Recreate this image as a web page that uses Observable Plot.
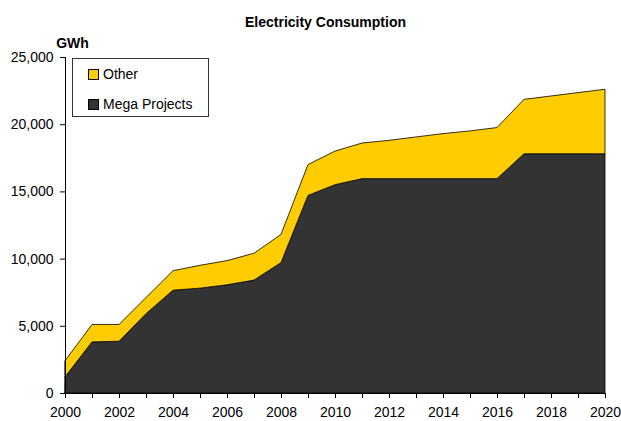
<!DOCTYPE html>
<html><head><meta charset="utf-8">
<script src="https://cdn.jsdelivr.net/npm/d3@7"></script>
<script src="https://cdn.jsdelivr.net/npm/@observablehq/plot@0.6"></script>
<style>
body{margin:0;background:#fff;font-family:"Liberation Sans",Arial,sans-serif;}
#wrap{position:relative;width:621px;height:421px;}
#legend{position:absolute;left:72px;top:58px;width:137px;height:59px;border:1px solid #333;background:#fff;font-size:14px;color:#000;box-sizing:border-box;}
.item{position:absolute;left:15px;display:flex;align-items:center;white-space:nowrap;}
.sw{width:9px;height:9px;border:1px solid #000;margin-right:4px;}
</style></head>
<body><div id="wrap"></div>
<script>
const title = "Electricity Consumption";
const unitLabel = "GWh";
const years = [2000,2001,2002,2003,2004,2005,2006,2007,2008,2009,2010,2011,2012,2013,2014,2015,2016,2017,2018,2019,2020];
const megaProjects = [1200,3800,3850,5900,7650,7800,8050,8400,9700,14700,15500,15950,15950,15950,15950,15950,15950,17800,17800,17800,17800];
const other = [1200,1300,1250,1200,1450,1700,1800,2000,2100,2300,2500,2650,2850,3100,3350,3550,3800,4050,4300,4550,4800];
const seriesNames = ["Mega Projects","Other"];
const seriesColors = ["#333333","#FFCC00"];
const yTicks = [0,5000,10000,15000,20000,25000];
const xLabelTicks = [2000,2002,2004,2006,2008,2010,2012,2014,2016,2018,2020];

const data = [];
years.forEach((yr,i)=>{
  data.push({year:yr, series:seriesNames[0], value:megaProjects[i]});
  data.push({year:yr, series:seriesNames[1], value:other[i]});
});

const chart = Plot.plot({
  width:621, height:421,
  marginLeft:65, marginRight:16, marginTop:57, marginBottom:28,
  style:{fontFamily:'"Liberation Sans",Arial,sans-serif', fontSize:"14px", color:"#000", background:"#fff"},
  x:{domain:[years[0], years[years.length-1]]},
  y:{domain:[0,25000]},
  color:{domain:seriesNames, range:seriesColors},
  marks:[
    Plot.areaY(data, Plot.stackY({x:"year", y:"value", fill:"series", z:"series", order:seriesNames, stroke:"#000", strokeWidth:0.8})),
    Plot.ruleX([years[0]], {stroke:"#000"}),
    Plot.ruleY([0], {stroke:"#000"}),
    Plot.axisY({ticks:yTicks, tickFormat:d3.format(","), tickSize:5, tickPadding:7, fontSize:14, label:null}),
    Plot.axisX({ticks:years, tickFormat:()=>"", tickSize:5, label:null}),
    Plot.axisX({ticks:xLabelTicks, tickFormat:d3.format("d"), tickSize:0, tickPadding:14, fontSize:14, label:null}),
    Plot.text([title], {frameAnchor:"top", dx:-10, dy:-40, fontWeight:"bold", fontSize:14}),
    Plot.text([unitLabel], {frameAnchor:"top-left", dx:7, dy:-19, fontWeight:"bold", fontSize:14, textAnchor:"middle"})
  ]
});
const wrap = document.getElementById("wrap");
wrap.appendChild(chart);
const legend = document.createElement("div");
legend.id = "legend";
const legendOrder = [1,0];
legendOrder.forEach((k,j)=>{
  const it = document.createElement("div");
  it.className = "item";
  it.style.top = (j===0 ? 7 : 37) + "px";
  const sw = document.createElement("div");
  sw.className = "sw";
  sw.style.background = seriesColors[k];
  it.appendChild(sw);
  const t = document.createElement("span");
  t.textContent = seriesNames[k];
  it.appendChild(t);
  legend.appendChild(it);
});
wrap.appendChild(legend);
</script>
</body></html>
